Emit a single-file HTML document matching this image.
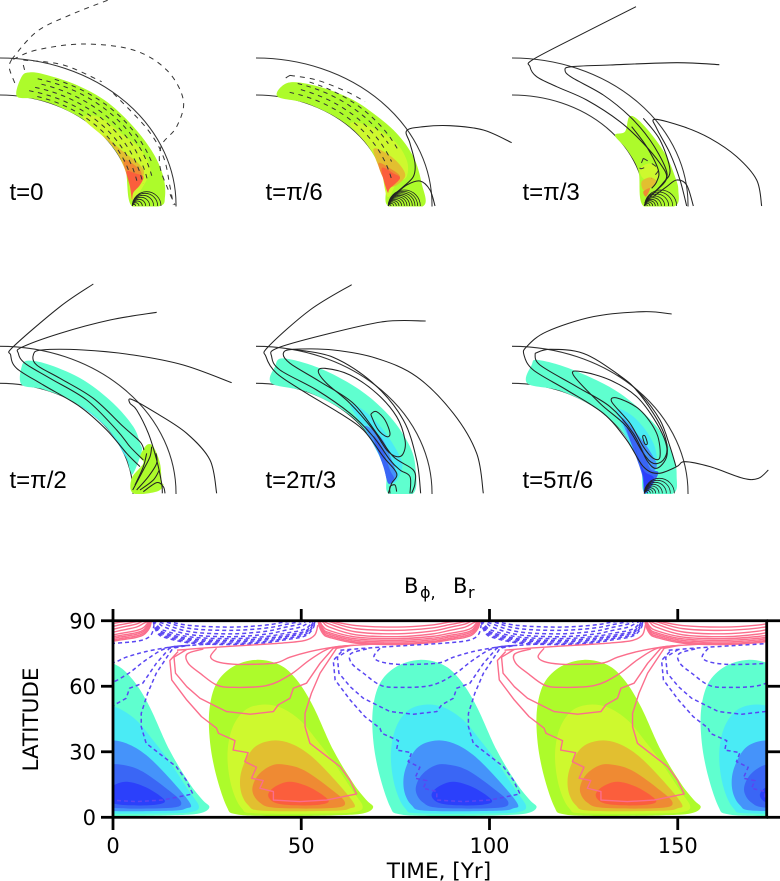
<!DOCTYPE html>
<html lang="en">
<head>
<meta charset="utf-8">
<title>Butterfly diagram and meridional field snapshots</title>
<style>
html,body{margin:0;padding:0;background:#fff;}
svg{display:block;width:780px;height:881px;overflow:hidden;}
.panel-label{font-family:"Liberation Sans",sans-serif;font-size:24px;fill:#000;}
.axis-text{font-family:"DejaVu Sans",sans-serif;font-size:21px;fill:#000;}
.title-sub{font-family:"DejaVu Sans",sans-serif;font-size:16px;fill:#000;}
.ink{fill:none;stroke:#222;stroke-width:1.05;stroke-linejoin:round;}
.ink-dash{fill:none;stroke:#333;stroke-width:1;stroke-dasharray:5 5;}
.shell{fill:none;stroke:#333;stroke-width:1.05;}
.pos-1{fill:#adfb2b}.pos-2{fill:#cef92e}.pos-3{fill:#e2bf30}.pos-4{fill:#ef8a33}.pos-5{fill:#fb5e3c}
.neg-1{fill:#5fffcf}.neg-2{fill:#4aebf5}.neg-3{fill:#4593fa}.neg-4{fill:#3a66f5}.neg-5{fill:#2b40fb}
.pink{fill:none;stroke:#fb6e8c;stroke-width:1.4;stroke-linejoin:round;}
.blue{fill:none;stroke:#5a46f2;stroke-width:1.5;stroke-dasharray:4 3;}
.spine{stroke:#000;stroke-width:2.8;fill:none;}
</style>
</head>
<body>
<svg id="figure" xmlns="http://www.w3.org/2000/svg" width="780" height="881" viewBox="0 0 780 881">
  <defs>
    <clipPath id="plot-clip"><rect x="113" y="620.7" width="653.7" height="196.6"/></clipPath>
    <clipPath id="row1-clip"><rect x="0" y="0" width="780" height="206.5"/></clipPath>
    <clipPath id="row2-clip"><rect x="0" y="270" width="780" height="224"/></clipPath>
  </defs>
  <rect x="0" y="0" width="780" height="881" fill="#fff"/>
  <g id="row1" clip-path="url(#row1-clip)"></g>
  <g id="row2" clip-path="url(#row2-clip)"></g>
  <text class="panel-label" x="9.5" y="200">t=0</text>
  <text class="panel-label" x="265.5" y="200">t=π/6</text>
  <text class="panel-label" x="522.5" y="200">t=π/3</text>
  <text class="panel-label" x="9.5" y="488">t=π/2</text>
  <text class="panel-label" x="265.5" y="488">t=2π/3</text>
  <text class="panel-label" x="522.5" y="488">t=5π/6</text>

  <g id="butterfly" clip-path="url(#plot-clip)"></g>
  <g id="axes"></g>

  <text class="axis-text" x="404" y="593">B</text>
  <text class="title-sub" x="420" y="598">ϕ,</text>
  <text class="axis-text" x="453" y="593">B</text>
  <text class="title-sub" x="468" y="598">r</text>
  <text class="axis-text" x="439" y="878" text-anchor="middle" style="font-size:21.6px">TIME, [Yr]</text>
  <text class="axis-text" transform="translate(38,719.5) rotate(-90)" text-anchor="middle" style="font-size:21.5px">LATITUDE</text>
</svg>
<script>
/* ===== Butterfly diagram data (time in years, latitude in degrees) ===== */
const xTickYears = [0, 50, 100, 150];
const yTickLatitudes = [0, 30, 60, 90];
const positiveCycleYears = [0, 87];
const negativeCycleYears = [-43.5, 43.4, 130.6];
const capStartPositive = [-32.8, 54.5, 141.3];
const capStartNegative = [10.7, 97.8];
const capLevels = [87.1, 85.6, 84, 82.7, 81.8, 81, 80.3, 79.6, 79.1];
const capGains = [4, 3, 2.5, 2, 1.5, 1.3, 1.2, 1.1, 1];
const capOffsetYears = [0, 0.3, 1.3, 3, 10, 21, 30, 35, 39, 41, 42.5, 43];
const capRiseFraction = [1, 0.75, 0.45, 0.3, 0.06, 0, 0.08, 0.2, 0.3, 0.42, 0.7, 1];

const level1 = [[69.1,4.6],[67.3,7.9],[63.8,15.6],[58.5,30.8],[53.2,50.7],[48.8,62.9],[44.3,69.8],[38.1,72.1],[31.9,69],[27.5,61.4],[25.6,49.2],[25.8,33.9],[27.5,18.6],[30.2,4.9],[32.4,1.5],[40.8,0.6],[58.5,0.9],[66.5,1.8]];
const level2 = [[66.3,5.2],[63.8,11.8],[58.5,25.5],[54.1,35.4],[49.6,44.6],[44.3,50.4],[39,51.5],[34.6,48.4],[31.5,40],[30.4,27.8],[31.5,14],[34.2,4.1],[38.1,1.8],[58.5,1.8],[64.7,2.6]];
const level3 = [[64,6.4],[58.5,17.9],[52.3,28.5],[47,33.9],[42.1,35.1],[37.3,31.6],[34.2,21.7],[33.9,12.5],[35.9,5.6],[39.9,3],[58.5,3],[62.9,4.1]];
const level4 = [[61.6,6.9],[57.6,13.3],[51.4,20.9],[47,23.7],[42.6,24],[38.6,19.4],[37,12.5],[39,6.7],[43.5,4.3],[58.5,4.3]];
const level5 = [[57.2,7.9],[52.3,13.7],[47,16.3],[43,14],[41.2,10.2],[43,6.7],[47.9,5.5],[55,5.8]];

const contourA = [[27.5,77.4],[25.9,73.6],[27.5,71.3],[31.9,70.1],[38.1,70.1],[43.5,70.8],[47,73.3],[52.3,75.9],[58.5,77.9],[62,78.5],[72,79.6]];
const contourB = [[24,77.1],[19.7,74.8],[20,70.5],[23.1,66],[27.5,60.6],[31.9,59.5],[40.8,60.3],[47,65.2],[52.3,72.1],[57.6,77.4],[64,78.8]];
const contourC = [[19.6,76.9],[16.2,73.3],[16.6,66],[19.6,59.8],[23.1,54.5],[27.5,50.7],[30.2,48.4],[36.4,47.2],[42.6,48.4],[43.9,51.5],[47,54.5],[47.9,59.1],[51.4,61.4],[55,70.5],[58.5,77.4],[62,78.6]];
const contourD = [[17.3,75.9],[15.1,71.8],[15.6,62.9],[19.6,53.7],[23.5,46.1],[27.5,40.8],[28,38.5],[32.4,35.1],[31.9,30.8],[35.9,29.6],[35,25.5],[38.1,22.9],[36.8,17.9],[39.9,16.8],[39,13.3],[42.6,11.8],[42.6,7.9],[49.6,7.2],[56.7,7.9],[64.7,10.7],[62.9,17.1],[60.3,23.2],[52.3,33.9],[51,41.5],[51,47.6],[52.7,56.8],[55,66],[59.4,77.4],[63,78.6]];
const contourE = [[17,76.5],[25,77.6],[35,78.7],[45,79.8],[51,81],[53.6,83.5],[54.4,88]];

/* ===== Meridional snapshots: points in panel units (1/3 pixel from the panel corner) ===== */
const p1Green = [[50,288],[65,230],[90,217],[140,225],[230,255],[320,305],[400,380],[460,460],[490,530],[495,590],[480,618],[395,618],[375,503],[330,430],[260,365],[170,317],[100,296]];
const p1Yellow = [[250,355],[300,352],[370,405],[420,445],[450,500],[440,540],[395,600],[380,514],[330,430]];
const p1Gold = [[310,405],[370,455],[415,490],[432,520],[405,565],[385,530],[350,455]];
const p1Orange = [[370,480],[410,500],[425,525],[405,560],[390,550]];
const p1Red = [[380,515],[405,520],[430,530],[420,555],[400,578],[396,600],[390,560]];
const p1DashFractions = [0.768, 0.795, 0.825, 0.855, 0.885, 0.91];
const p1DashFrom = [16, 12, 14, 16, 14, 20];
const p1DashTo = [74, 80, 80, 80, 78, 72];
const p1RingLeft = 397;
const p1RingBase = 618;
const p1RingRadii = [5, 10, 15, 20, 26, 32, 38, 43];
const p1Big1 = [[35,178],[110,95],[210,45],[325,0]];
const p1Big2 = [[40,178],[110,150],[250,132],[400,150],[500,210],[550,300],[530,380],[485,435],[480,500],[505,570],[525,615]];
const p1Big3 = [[35,178],[28,205],[50,262]];
const p1Big4 = [[70,195],[75,215]];
const p1Big6 = [[70,180],[190,195],[305,245]];
const p1Big5 = [[340,280],[440,385],[490,470],[510,560],[520,615]];

const p2Green = [[82,289],[115,248],[200,258],[300,295],[370,340],[440,400],[490,470],[515,550],[520,618],[415,618],[405,540],[350,432],[270,359],[170,310]];
const p2Yellow = [[300,372],[350,375],[430,420],[470,480],[470,530],[440,550],[412,590],[390,496],[350,432]];
const p2Gold = [[370,450],[410,460],[450,495],[465,530],[430,560],[405,540]];
const p2Orange = [[385,490],[420,505],[450,530],[425,555],[405,545]];
const p2Red = [[395,505],[430,520],[450,535],[420,565],[412,575]];
const p2DashFractions = [0.79, 0.825, 0.86, 0.89];
const p2DashFrom = [14, 18, 16, 20];
const p2DashTo = [78, 70, 62, 66];
const p2RingLeft = 415;
const p2RingBase = 618;
const p2RingRadii = [4, 8, 12, 16, 20, 24, 28, 32, 36, 40, 44, 48];
const p2Dash1 = [[120,226],[107,235],[115,243]];
const p2Dash2 = [[120,226],[200,240],[290,275],[345,305]];
const p2Line1 = [[785,428],[700,390],[600,377],[520,380],[470,392],[480,430],[495,490],[490,530],[460,560],[430,585]];
const p2Line2 = [[555,618],[540,570],[510,543],[470,555],[440,580]];

const p3Green = [[315,406],[345,395],[358,350],[385,360],[430,410],[470,470],[495,530],[505,570],[495,618],[400,618],[385,512],[350,448]];
const p3Yellow = [[390,505],[420,490],[445,510],[440,540],[410,540],[395,530]];
const p3Gold = [[395,545],[420,532],[440,545],[420,565],[400,570]];
const p3Orange = [[400,575],[420,565],[408,590]];
const p3RingLeft = 404;
const p3RingBase = 618;
const p3RingRadii = [4, 8, 12, 16, 20, 25, 30, 36, 42, 48];
const p3Dash = [[400,475],[390,505],[410,500]];
const p3Dash2 = [[400,475],[425,490],[445,510],[425,535]];
const p3Line1 = [[378,20],[220,100],[70,178],[60,200],[80,230],[140,260],[230,300],[330,365],[400,430],[450,490],[470,530],[450,560],[420,590]];
const p3Line2 = [[628,194],[500,188],[300,195],[185,200],[165,210],[185,232],[280,285],[360,350],[420,420],[465,500],[468,540],[435,575]];
const p3Line3 = [[755,618],[740,540],[680,470],[600,415],[520,380],[435,358],[440,385],[480,460],[510,540],[530,618]];
const p3Line4 = [[365,380],[410,440],[445,510],[440,545],[425,565]];
const p3Line5 = [[400,355],[450,420],[480,510],[460,548],[425,585]];
const p3Line6 = [[550,618],[530,555],[500,540],[470,560],[430,590]];

const p4Aqua = [[65,344],[65,290],[85,272],[150,285],[250,330],[340,400],[400,470],[420,520],[425,545],[400,610],[390,600],[375,557],[320,473],[220,395],[130,358]];
const p4Sky = [[240,405],[300,450],[360,520],[385,570],[390,590],[375,557],[320,473]];
const p4Green = [[395,625],[430,580],[420,560],[440,525],[460,530],[480,580],[485,635],[490,645],[470,665],[400,670]];
const p4Line1 = [[280,42],[180,110],[40,230],[32,255],[50,295],[130,345],[240,410],[320,480],[380,550],[420,590]];
const p4Line2 = [[470,127],[330,150],[180,190],[65,232],[55,250],[75,280],[150,325],[260,390],[350,480],[390,530],[430,570]];
const p4Line3 = [[695,338],[550,285],[400,255],[250,240],[125,240],[100,255],[110,285],[180,325],[280,385],[370,470],[420,515],[432,540]];
const p4Line4 = [[650,670],[630,570],[560,490],[470,430],[395,388],[390,400],[410,420],[445,490],[470,570],[485,640],[487,670]];
const p4Fan1 = [[398,660],[430,600],[450,560],[455,530]];
const p4Fan2 = [[410,660],[445,620],[470,580],[468,550]];
const p4Fan3 = [[420,660],[460,630],[478,600]];
const p4Fan4 = [[405,645],[430,590],[440,550]];
const p4Fan5 = [[430,665],[470,638],[490,650],[495,670]];

const p5Aqua = [[65,340],[75,290],[100,265],[210,295],[330,360],[420,440],[480,530],[497,600],[490,670],[415,670],[405,600],[350,487],[280,421],[170,365]];
const p5Sky = [[300,405],[340,420],[400,480],[450,560],[455,600],[430,640],[405,590],[350,487]];
const p5Azure = [[345,470],[395,505],[425,570],[440,620],[415,640],[395,570]];
const p5Royal = [[370,500],[395,530],[420,600],[432,625],[415,640],[400,590]];
const p5Line1 = [[305,44],[180,120],[55,230],[48,260],[80,310],[170,370],[270,430],[340,480],[400,560],[440,610],[425,640],[415,670]];
const p5Line2 = [[527,153],[400,155],[220,195],[80,235],[65,260],[90,300],[200,360],[300,430],[370,500],[420,570],[450,600],[480,620],[480,670]];
const p5Line3 = [[700,670],[680,550],[610,430],[500,320],[380,265],[250,240],[130,238],[100,250],[120,280],[210,335],[310,400],[380,490],[430,560],[490,600],[495,640],[485,670]];
const p5Line5 = [[130,238],[250,262],[370,340],[460,450],[500,570],[512,670]];
const p5Loop1 = [[205,305],[225,295],[300,315],[380,370],[440,440],[465,510],[460,550],[440,560],[410,540],[370,480],[300,400],[230,340]];
const p5Loop2 = [[365,430],[380,425],[405,450],[420,490],[410,500],[385,480],[365,440]];
const p5Line4 = [[420,670],[420,650],[435,645],[440,665]];

const p6Aqua = [[52,340],[65,285],[85,270],[190,300],[330,370],[440,470],[490,560],[500,620],[490,670],[405,670],[392,590],[340,490],[260,416],[150,362]];
const p6Sky = [[320,420],[370,440],[420,500],[440,560],[430,640],[405,670],[392,590],[350,503]];
const p6Azure = [[335,445],[400,515],[435,570],[440,590],[430,610],[405,670],[392,590]];
const p6Royal = [[350,475],[395,530],[420,595],[445,610],[405,670],[395,610]];
const p6Deep = [[375,530],[400,600],[432,625],[405,670],[400,620]];
const p6RingLeft = 403;
const p6RingBase = 670;
const p6RingRadii = [5, 9, 13, 17, 22, 27, 33, 39, 45];
const p6Line1 = [[485,132],[400,125],[250,140],[110,185],[50,230],[42,255],[70,300],[170,360],[280,430],[350,510],[400,590],[445,610],[500,590],[525,575],[600,590],[700,625],[745,625],[775,600]];
const p6Line2 = [[75,250],[120,238],[220,250],[320,310],[390,370],[450,450],[480,530],[498,590]];
const p6Line3 = [[75,250],[90,285],[200,350],[300,410],[370,490],[410,570],[440,595],[470,560],[465,500],[430,430],[370,350],[325,315]];
const p6Loop1 = [[190,315],[215,305],[300,330],[380,380],[440,460],[470,530],[460,570],[430,580],[400,550],[350,470],[270,400]];
const p6Loop2 = [[305,395],[325,385],[390,420],[440,490],[450,560],[430,565],[400,530],[360,460]];
const p6Loop3 = [[398,500],[405,498],[412,520],[405,522]];

/* ===== Scales and helpers ===== */
const SVG_NS = 'http://www.w3.org/2000/svg';
const yearToX = function (year) { return 113 + year * 3.765; };
const latToY = function (lat) { return 817.3 - lat * 2.184; };
const INNER_RX = 133, INNER_RY = 110, OUTER_RX = 176, OUTER_RY = 147;

function addShape(parent, tag, attrs, name) {
  const el = document.createElementNS(SVG_NS, tag);
  for (const key in attrs) { el.setAttribute(key, attrs[key]); }
  
  
  parent.appendChild(el);
  return el;
}
function smoothPath(pts, closed) {
  const n = pts.length;
  const at = function (i) { return closed ? pts[(i + n) % n] : pts[Math.max(0, Math.min(n - 1, i))]; };
  let d = 'M' + pts[0][0].toFixed(2) + ' ' + pts[0][1].toFixed(2);
  const last = closed ? n : n - 1;
  for (let i = 0; i < last; i++) {
    const p0 = at(i - 1), p1 = at(i), p2 = at(i + 1), p3 = at(i + 2);
    const c1x = p1[0] + (p2[0] - p0[0]) / 6, c1y = p1[1] + (p2[1] - p0[1]) / 6;
    const c2x = p2[0] - (p3[0] - p1[0]) / 6, c2y = p2[1] - (p3[1] - p1[1]) / 6;
    d += 'C' + c1x.toFixed(2) + ' ' + c1y.toFixed(2) + ' ' + c2x.toFixed(2) + ' ' + c2y.toFixed(2) + ' ' + p2[0].toFixed(2) + ' ' + p2[1].toFixed(2);
  }
  return d + (closed ? 'Z' : '');
}
function straightPath(pts) {
  return 'M' + pts.map(function (p) { return p[0].toFixed(2) + ' ' + p[1].toFixed(2); }).join('L');
}

/* ===== Snapshot panels ===== */
const row1 = document.getElementById('row1');
const row2 = document.getElementById('row2');

function makePanel(parent, cornerX, cornerY, shellX, baseY, panelName) {
  const g = addShape(parent, 'g', {}, panelName);
  const ux = function (a) { return cornerX + a / 3; };
  const uy = function (b) { return cornerY + b / 3; };
  const map = function (pts) { return pts.map(function (p) { return [ux(p[0]), uy(p[1])]; }); };
  return {
    shade: function (pts, cls, name) {
      addShape(g, 'path', { d: smoothPath(map(pts), true), 'class': cls }, name);
    },
    line: function (pts, cls, name) {
      addShape(g, 'path', { d: smoothPath(map(pts), false), 'class': cls }, name);
    },
    loop: function (pts, name) {
      addShape(g, 'path', { d: smoothPath(map(pts), true), 'class': 'ink' }, name);
    },
    shell: function () {
      addShape(g, 'path', { d: 'M' + shellX + ' ' + (baseY - INNER_RY) + 'A' + INNER_RX + ' ' + INNER_RY + ' 0 0 1 ' + (shellX + INNER_RX) + ' ' + (baseY + 2), 'class': 'shell' }, 'inner-boundary');
      addShape(g, 'path', { d: 'M' + shellX + ' ' + (baseY - OUTER_RY) + 'A' + OUTER_RX + ' ' + OUTER_RY + ' 0 0 1 ' + (shellX + OUTER_RX) + ' ' + (baseY + 2), 'class': 'shell' }, 'outer-boundary');
    },
    rings: function (left, base, radii) {
      radii.forEach(function (r) {
        const x = ux(left), y = uy(base), rp = r / 3;
        addShape(g, 'path', { d: 'M' + x + ' ' + y + 'A' + rp + ' ' + rp + ' 0 0 1 ' + (x + 2 * rp) + ' ' + y, 'class': 'ink', style: 'stroke-width:.8' }, 'field-ring');
      });
    },
    dashArcs: function (fractions, from, to) {
      fractions.forEach(function (f, i) {
        const pts = [];
        for (let c = from[i]; c <= to[i]; c += 3) {
          const a = c * Math.PI / 180;
          pts.push([shellX + f * OUTER_RX * Math.sin(a), baseY - f * OUTER_RY * Math.cos(a)]);
        }
        addShape(g, 'path', { d: straightPath(pts), 'class': 'ink-dash', style: 'stroke-dasharray:4.5 4.5' }, 'dashed-field-line');
      });
    }
  };
}

const P1 = makePanel(row1, 0, 0, 0, 205, 'panel-t-0');
P1.shell();
P1.shade(p1Green, 'pos-1', 'toroidal-level-1');
P1.shade(p1Yellow, 'pos-2', 'toroidal-level-2');
P1.shade(p1Gold, 'pos-3', 'toroidal-level-3');
P1.shade(p1Orange, 'pos-4', 'toroidal-level-4');
P1.shade(p1Red, 'pos-5', 'toroidal-level-5');
P1.dashArcs(p1DashFractions, p1DashFrom, p1DashTo);
P1.rings(p1RingLeft, p1RingBase, p1RingRadii);
P1.line(p1Big1, 'ink-dash', 'open-field-line');
P1.line(p1Big2, 'ink-dash', 'closed-field-line');
P1.line(p1Big3, 'ink-dash', 'field-line-polar');
P1.line(p1Big4, 'ink-dash', 'field-line-stub');
P1.line(p1Big6, 'ink-dash', 'field-line-near-surface');
P1.line(p1Big5, 'ink-dash', 'field-line-low-latitude');

const P2 = makePanel(row1, 250, 0, 256, 205, 'panel-t-pi-6');
P2.shell();
P2.shade(p2Green, 'pos-1', 'toroidal-level-1');
P2.shade(p2Yellow, 'pos-2', 'toroidal-level-2');
P2.shade(p2Gold, 'pos-3', 'toroidal-level-3');
P2.shade(p2Orange, 'pos-4', 'toroidal-level-4');
P2.shade(p2Red, 'pos-5', 'toroidal-level-5');
P2.dashArcs(p2DashFractions, p2DashFrom, p2DashTo);
P2.rings(p2RingLeft, p2RingBase, p2RingRadii);
P2.line(p2Dash1, 'ink-dash', 'field-line-cap');
P2.line(p2Dash2, 'ink-dash', 'field-line-top');
P2.line(p2Line1, 'ink', 'field-line-loop');
P2.line(p2Line2, 'ink', 'field-line-low');

const P3 = makePanel(row1, 510, 0, 512, 205, 'panel-t-pi-3');
P3.shell();
P3.shade(p3Green, 'pos-1', 'toroidal-level-1');
P3.shade(p3Yellow, 'pos-2', 'toroidal-level-2');
P3.shade(p3Gold, 'pos-3', 'toroidal-level-3');
P3.shade(p3Orange, 'pos-4', 'toroidal-level-4');
P3.rings(p3RingLeft, p3RingBase, p3RingRadii);
P3.line(p3Dash, 'ink-dash', 'dashed-contour-left');
P3.line(p3Dash2, 'ink-dash', 'dashed-contour-right');
[p3Line1, p3Line2, p3Line3, p3Line4, p3Line5, p3Line6].forEach(function (pts) { P3.line(pts, 'ink', 'field-line'); });

const P4 = makePanel(row2, 0, 270, 0, 493.3, 'panel-t-pi-2');
P4.shell();
P4.shade(p4Aqua, 'neg-1', 'toroidal-level-1');
P4.shade(p4Sky, 'neg-2', 'toroidal-level-2');
P4.shade(p4Green, 'pos-1', 'toroidal-positive-level-1');
[p4Line1, p4Line2, p4Line3, p4Line4, p4Fan1, p4Fan2, p4Fan3, p4Fan4, p4Fan5].forEach(function (pts) { P4.line(pts, 'ink', 'field-line'); });

const P5 = makePanel(row2, 250, 270, 256, 493.3, 'panel-t-2pi-3');
P5.shell();
P5.shade(p5Aqua, 'neg-1', 'toroidal-level-1');
P5.shade(p5Sky, 'neg-2', 'toroidal-level-2');
P5.shade(p5Azure, 'neg-3', 'toroidal-level-3');
P5.shade(p5Royal, 'neg-4', 'toroidal-level-4');
[p5Line1, p5Line2, p5Line3, p5Line4, p5Line5].forEach(function (pts) { P5.line(pts, 'ink', 'field-line'); });
P5.loop(p5Loop1, 'field-loop-large');
P5.loop(p5Loop2, 'field-loop-small');

const P6 = makePanel(row2, 510, 270, 512, 493.3, 'panel-t-5pi-6');
P6.shell();
P6.shade(p6Aqua, 'neg-1', 'toroidal-level-1');
P6.shade(p6Sky, 'neg-2', 'toroidal-level-2');
P6.shade(p6Azure, 'neg-3', 'toroidal-level-3');
P6.shade(p6Royal, 'neg-4', 'toroidal-level-4');
P6.shade(p6Deep, 'neg-5', 'toroidal-level-5');
P6.rings(p6RingLeft, p6RingBase, p6RingRadii);
[p6Line1, p6Line2, p6Line3].forEach(function (pts) { P6.line(pts, 'ink', 'field-line'); });
P6.loop(p6Loop1, 'field-loop-large');
P6.loop(p6Loop2, 'field-loop-medium');
P6.loop(p6Loop3, 'field-loop-small');

/* ===== Butterfly diagram ===== */
const plot = document.getElementById('butterfly');
const allLevels = [level1, level2, level3, level4, level5];
const smoothContours = [contourA, contourB, contourE];
const kinkedContours = [contourC, contourD];

function toPlot(pts, shift) {
  return pts.map(function (p) { return [yearToX(p[0] + shift), latToY(p[1])]; });
}
positiveCycleYears.forEach(function (shift) {
  allLevels.forEach(function (lvl, i) {
    addShape(plot, 'path', { d: smoothPath(toPlot(lvl, shift), true), 'class': 'pos-' + (i + 1) }, 'bphi-positive-level');
  });
});
negativeCycleYears.forEach(function (shift) {
  allLevels.forEach(function (lvl, i) {
    addShape(plot, 'path', { d: smoothPath(toPlot(lvl, shift), true), 'class': 'neg-' + (i + 1) }, 'bphi-negative-level');
  });
});
function capLine(start, level, gain) {
  return capOffsetYears.map(function (off, i) {
    return [yearToX(start + off), latToY(level + (90 - level) * Math.min(1, capRiseFraction[i] * gain))];
  });
}
capStartPositive.forEach(function (start) {
  capLevels.forEach(function (lv, k) {
    addShape(plot, 'path', { d: smoothPath(capLine(start, lv, capGains[k]), false), 'class': 'pink' }, 'br-positive-polar-contour');
  });
});
capStartNegative.forEach(function (start) {
  capLevels.forEach(function (lv, k) {
    addShape(plot, 'path', { d: smoothPath(capLine(start, lv, capGains[k]), false), 'class': 'blue' }, 'br-negative-polar-contour');
  });
});
positiveCycleYears.forEach(function (shift) {
  smoothContours.forEach(function (c) {
    addShape(plot, 'path', { d: smoothPath(toPlot(c, shift), false), 'class': 'pink' }, 'br-positive-contour');
  });
  kinkedContours.forEach(function (c) {
    addShape(plot, 'path', { d: straightPath(toPlot(c, shift)), 'class': 'pink' }, 'br-positive-contour');
  });
});
negativeCycleYears.forEach(function (shift) {
  smoothContours.forEach(function (c) {
    addShape(plot, 'path', { d: smoothPath(toPlot(c, shift), false), 'class': 'blue' }, 'br-negative-contour');
  });
  kinkedContours.forEach(function (c) {
    addShape(plot, 'path', { d: straightPath(toPlot(c, shift)), 'class': 'blue' }, 'br-negative-contour');
  });
});

/* ===== Axes ===== */
const axes = document.getElementById('axes');
const xLeft = yearToX(0), xRight = 766.7, yTop = latToY(90), yBottom = latToY(0);
addShape(axes, 'rect', { x: xLeft, y: yTop, width: xRight - xLeft, height: yBottom - yTop, 'class': 'spine' }, 'plot-frame');
xTickYears.forEach(function (yr) {
  const x = yearToX(yr);
  addShape(axes, 'line', { x1: x, x2: x, y1: yTop, y2: 609, 'class': 'spine' }, 'x-tick-top');
  addShape(axes, 'line', { x1: x, x2: x, y1: yBottom, y2: 830, 'class': 'spine' }, 'x-tick-bottom');
  const t = addShape(axes, 'text', { x: x, y: 853, 'text-anchor': 'middle', 'class': 'axis-text' }, 'x-tick-label');
  t.textContent = String(yr);
});
yTickLatitudes.forEach(function (lat) {
  const y = latToY(lat);
  addShape(axes, 'line', { x1: xLeft, x2: 101, y1: y, y2: y, 'class': 'spine' }, 'y-tick-left');
  addShape(axes, 'line', { x1: xRight, x2: 780, y1: y, y2: y, 'class': 'spine' }, 'y-tick-right');
  const t = addShape(axes, 'text', { x: 96, y: y + 7.7, 'text-anchor': 'end', 'class': 'axis-text' }, 'y-tick-label');
  t.textContent = String(lat);
});
</script>
</body>
</html>
